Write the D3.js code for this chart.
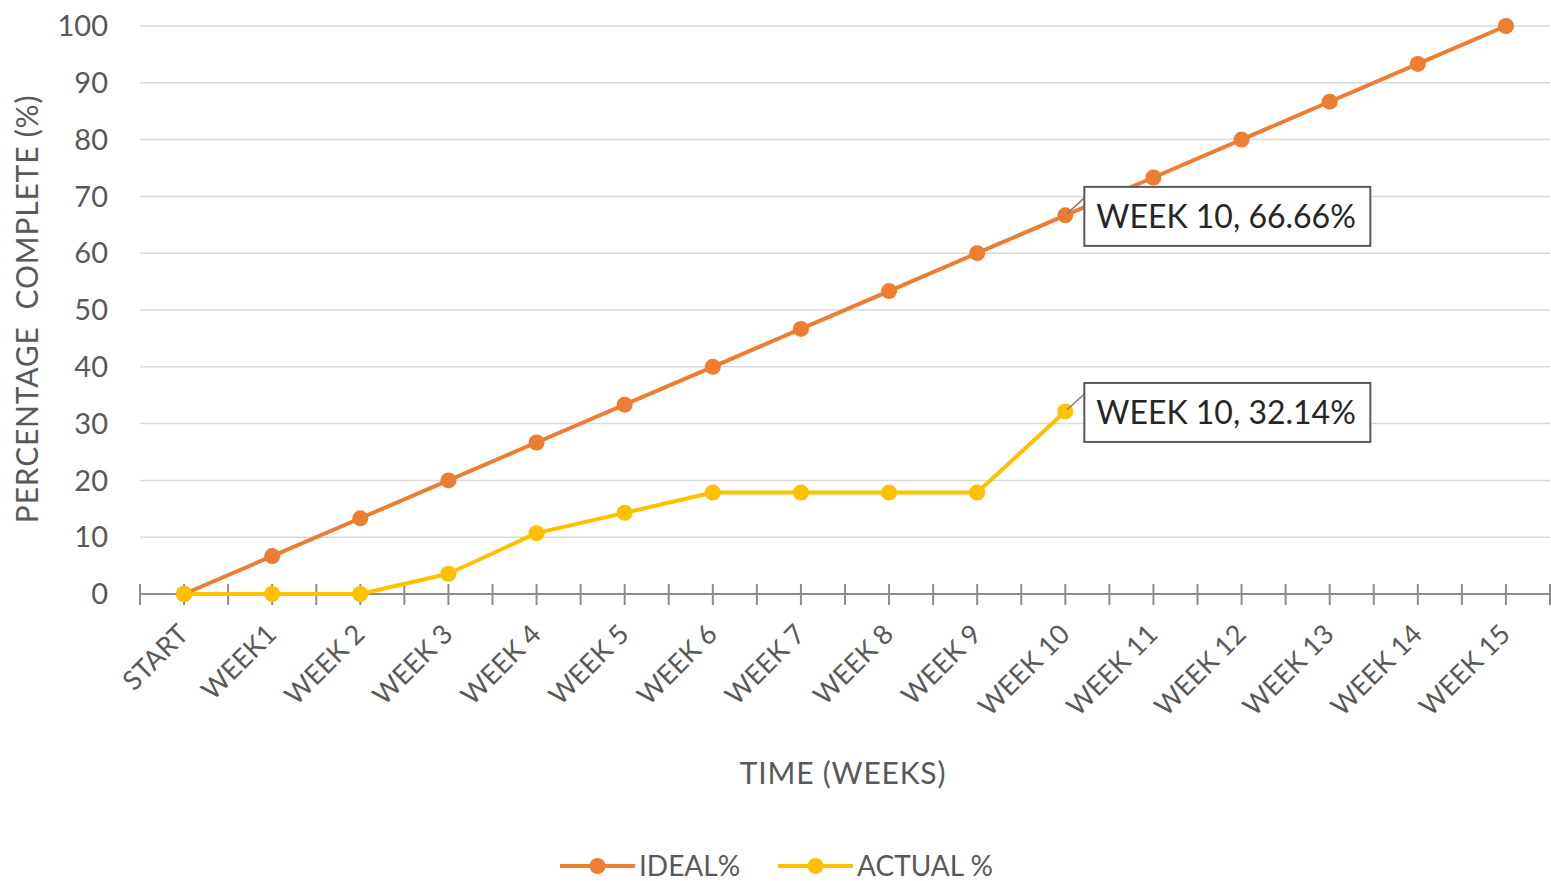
<!DOCTYPE html>
<html>
<head>
<meta charset="utf-8">
<script src="https://cdn.jsdelivr.net/npm/d3@7"></script>
<style>
  html, body { margin: 0; padding: 0; background: #fff; }
  svg { display: block; font-family: Lato, "Open Sans", sans-serif; }
</style>
</head>
<body>
<svg id="chart" width="1551" height="881"></svg>
<script>
const categories = ["START","WEEK1","WEEK 2","WEEK 3","WEEK 4","WEEK 5","WEEK 6","WEEK 7","WEEK 8","WEEK 9","WEEK 10","WEEK 11","WEEK 12","WEEK 13","WEEK 14","WEEK 15"];
const idealValues = [0, 6.67, 13.33, 20, 26.67, 33.33, 40, 46.67, 53.33, 60, 66.66, 73.33, 80, 86.67, 93.33, 100];
const actualValues = [0, 0, 0, 3.57, 10.71, 14.29, 17.86, 17.86, 17.86, 17.86, 32.14];
const yTicks = [0, 10, 20, 30, 40, 50, 60, 70, 80, 90, 100];
const seriesNames = ["IDEAL%", "ACTUAL %"];
const seriesColors = ["#ED7D31", "#FFC000"];
const dataLabels = [
  {series: 0, index: 10, text: "WEEK 10, 66.66%"},
  {series: 1, index: 10, text: "WEEK 10, 32.14%"}
];
const xTitle = "TIME (WEEKS)";
const yTitle = "PERCENTAGE\u00A0\u00A0COMPLETE (%)";

(function () {
const svg = d3.select("#chart");
const pLeft = 140, pRight = 1550, pTop = 26, pBottom = 594;

const x = d3.scaleBand().domain(categories).range([pLeft, pRight]).padding(0);
const bw = x.bandwidth();
const cx = c => x(c) + bw / 2;
const y = d3.scaleLinear().domain([0, 100]).range([pBottom, pTop]);

// gridlines
svg.append("g").selectAll("line").data(yTicks.filter(t => t > 0)).join("line")
  .attr("x1", pLeft).attr("x2", pRight)
  .attr("y1", d => y(d)).attr("y2", d => y(d))
  .attr("stroke", "#d9d9d9").attr("stroke-width", 1.5);

// y labels
svg.append("g").selectAll("text").data(yTicks).join("text")
  .attr("x", 108).attr("y", d => y(d))
  .attr("dy", "0.35em")
  .attr("text-anchor", "end")
  .attr("font-size", 29)
  .attr("fill", "#595959")
  .text(d => d);

// x axis line
svg.append("line").attr("x1", pLeft).attr("x2", pRight).attr("y1", pBottom).attr("y2", pBottom)
  .attr("stroke", "#8c8c8c").attr("stroke-width", 2);

// ticks at every half band
const tickPos = d3.range(categories.length * 2 + 1).map(i => pLeft + i * bw / 2);
svg.append("g").selectAll("line").data(tickPos).join("line")
  .attr("x1", d => d).attr("x2", d => d)
  .attr("y1", pBottom - 10).attr("y2", pBottom + 11)
  .attr("stroke", "#8c8c8c").attr("stroke-width", 2);

// x tick labels
svg.append("g").selectAll("text").data(categories).join("text")
  .attr("transform", d => `translate(${cx(d) + 6},${pBottom + 42}) rotate(-45)`)
  .attr("text-anchor", "end")
  .attr("font-size", 27)
  .attr("fill", "#595959")
  .text(d => d);

// titles
svg.append("text").attr("x", 843).attr("y", 784).attr("text-anchor", "middle")
  .attr("font-size", 30).attr("letter-spacing", 0.8).attr("fill", "#595959").text(xTitle);
svg.append("text").attr("transform", `translate(38,309) rotate(-90)`).attr("text-anchor", "middle")
  .attr("font-size", 30).attr("letter-spacing", 0.8).attr("fill", "#595959").text(yTitle);

// series
const seriesData = [idealValues, actualValues];
const line = d3.line().x((d, i) => cx(categories[i])).y(d => y(d));
seriesData.forEach((vals, s) => {
  const g = svg.append("g");
  g.append("path").datum(vals).attr("d", line)
    .attr("fill", "none").attr("stroke", seriesColors[s]).attr("stroke-width", 4)
    .attr("stroke-linejoin", "round");
  g.selectAll("circle").data(vals).join("circle")
    .attr("cx", (d, i) => cx(categories[i])).attr("cy", d => y(d))
    .attr("r", 8).attr("fill", seriesColors[s]);
});

// data labels
dataLabels.forEach(lb => {
  const px = cx(categories[lb.index]);
  const py = y(seriesData[lb.series][lb.index]);
  const bx = px + 19, bh = 59, bwid = 286, by = py - bh / 2 + 1;
  const g = svg.append("g");
  g.append("line").attr("x1", px + 2).attr("y1", py - 2).attr("x2", bx).attr("y2", by + 11)
    .attr("stroke", "#7f7f7f").attr("stroke-width", 1.5);
  g.append("rect").attr("x", bx).attr("y", by).attr("width", bwid).attr("height", bh)
    .attr("fill", "#fff").attr("stroke", "#595959").attr("stroke-width", 2);
  g.append("text").attr("x", bx + 12).attr("y", by + bh / 2).attr("dy", "0.36em")
    .attr("font-size", 32).attr("fill", "#262626").text(lb.text);
});

// legend
const legendY = 866;
const legendX = [560, 778];
seriesNames.forEach((name, s) => {
  const lx = legendX[s];
  const g = svg.append("g");
  g.append("line").attr("x1", lx).attr("x2", lx + 75).attr("y1", legendY).attr("y2", legendY)
    .attr("stroke", seriesColors[s]).attr("stroke-width", 4);
  g.append("circle").attr("cx", lx + 37.5).attr("cy", legendY).attr("r", 8).attr("fill", seriesColors[s]);
  g.append("text").attr("x", lx + 79).attr("y", legendY).attr("dy", "0.36em")
    .attr("font-size", 28).attr("fill", "#595959").text(name);
});
})();
</script>
</body>
</html>
